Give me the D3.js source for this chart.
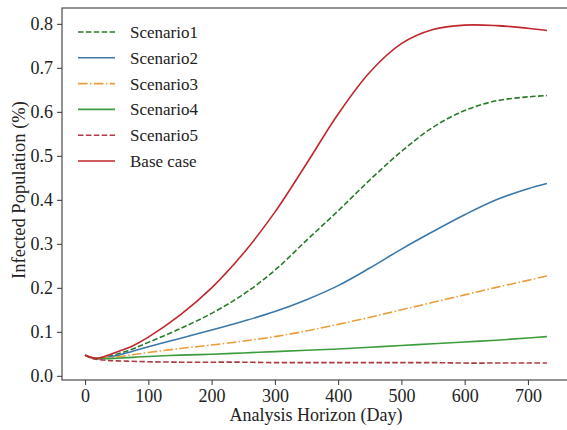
<!DOCTYPE html>
<html>
<head>
<meta charset="utf-8">
<script src="https://cdn.jsdelivr.net/npm/d3@7"></script>
</head>
<body style="margin:0; background:#fff">
<svg id="chart" width="567" height="430" style="display:block"></svg>
<script>
// Days at which each scenario is sampled
const days = [0, 10, 20, 35, 50, 75, 100, 150, 200, 250, 300, 350, 400, 450, 500, 550, 600, 650, 700, 730];

// Infected population (%) per scenario
const scenario1 = [0.047, 0.041, 0.039, 0.043, 0.049, 0.061, 0.076, 0.107, 0.142, 0.185, 0.240, 0.308, 0.375, 0.445, 0.510, 0.565, 0.603, 0.625, 0.634, 0.637];
const scenario2 = [0.047, 0.041, 0.039, 0.042, 0.046, 0.056, 0.066, 0.085, 0.104, 0.124, 0.146, 0.173, 0.205, 0.245, 0.288, 0.328, 0.366, 0.400, 0.425, 0.437];
const scenario3 = [0.047, 0.041, 0.039, 0.041, 0.043, 0.048, 0.053, 0.062, 0.070, 0.079, 0.089, 0.102, 0.117, 0.133, 0.150, 0.167, 0.184, 0.201, 0.217, 0.227];
const scenario4 = [0.047, 0.041, 0.039, 0.039, 0.040, 0.042, 0.044, 0.047, 0.049, 0.052, 0.055, 0.058, 0.061, 0.065, 0.069, 0.073, 0.077, 0.081, 0.086, 0.089];
const scenario5 = [0.047, 0.040, 0.037, 0.035, 0.034, 0.033, 0.032, 0.031, 0.031, 0.031, 0.030, 0.030, 0.030, 0.030, 0.030, 0.030, 0.029, 0.029, 0.029, 0.029];
const baseCase  = [0.047, 0.042, 0.040, 0.046, 0.054, 0.068, 0.088, 0.138, 0.200, 0.278, 0.372, 0.482, 0.595, 0.690, 0.755, 0.787, 0.797, 0.796, 0.790, 0.785];

const seriesNames = ["Scenario1", "Scenario2", "Scenario3", "Scenario4", "Scenario5", "Base case"];
const seriesValues = [scenario1, scenario2, scenario3, scenario4, scenario5, baseCase];

const xTicks = [0, 100, 200, 300, 400, 500, 600, 700];
const yTicks = [0.0, 0.1, 0.2, 0.3, 0.4, 0.5, 0.6, 0.7, 0.8];

const xTitle = "Analysis Horizon (Day)";
const yTitle = "Infected Population (%)";

// Line styles for each series
const styles = [
  { color: "#2b7a2b", dash: "5.5,2.4" },
  { color: "#3a78aa", dash: null },
  { color: "#eb9d3c", dash: "9.6,2.4,1.5,2.4" },
  { color: "#3c9c3c", dash: null },
  { color: "#ad3a40", dash: "5.5,2.4" },
  { color: "#c0272d", dash: null }
];

const FONT = '"Liberation Serif"';

const svg = d3.select("#chart");
const plot = { left: 62, top: 8, right: 570, bottom: 380 };

const x = d3.scaleLinear().domain([-36.5, 766.5]).range([plot.left, plot.right]);
const y = d3.scaleLinear().domain([-0.0095, 0.836]).range([plot.bottom, plot.top]);

// Axes
const xAxis = d3.axisBottom(x).tickValues(xTicks).tickSize(5).tickPadding(4).tickFormat(d3.format("d"));
const yAxis = d3.axisLeft(y).tickValues(yTicks).tickSize(5).tickPadding(4).tickFormat(d3.format(".1f"));

const gx = svg.append("g").attr("transform", `translate(0,${plot.bottom})`).call(xAxis);
const gy = svg.append("g").attr("transform", `translate(${plot.left},0)`).call(yAxis);
[gx, gy].forEach(g => {
  g.select(".domain").remove();
  g.selectAll(".tick line").attr("stroke", "#333").attr("stroke-width", 1);
  g.selectAll(".tick text")
    .style("font-family", FONT)
    .style("font-size", "18px")
    .style("fill", "#222");
});

// Frame
svg.append("rect")
  .attr("x", plot.left).attr("y", plot.top)
  .attr("width", plot.right - plot.left).attr("height", plot.bottom - plot.top)
  .attr("fill", "none").attr("stroke", "#3a3a3a").attr("stroke-width", 1.1);

// Lines
const line = d3.line()
  .x((d, i) => x(days[i]))
  .y(d => y(d))
  .curve(d3.curveCatmullRom.alpha(0.5));

seriesValues.forEach((vals, k) => {
  svg.append("path")
    .datum(vals)
    .attr("d", line)
    .attr("fill", "none")
    .attr("stroke", styles[k].color)
    .attr("stroke-width", 1.6)
    .attr("stroke-dasharray", styles[k].dash);
});

// Axis titles
svg.append("text")
  .attr("x", x(365)).attr("y", 421)
  .attr("text-anchor", "middle")
  .style("font-family", FONT)
  .style("font-size", "18px")
  .style("fill", "#222")
  .text(xTitle);

svg.append("text")
  .attr("transform", "translate(25,190) rotate(-90)")
  .attr("text-anchor", "middle")
  .style("font-family", FONT)
  .style("font-size", "18.5px")
  .style("fill", "#222")
  .text(yTitle);

// Legend
const legend = svg.append("g");
seriesNames.forEach((name, k) => {
  const ly = 32 + k * 25.8;
  legend.append("line")
    .attr("x1", 78).attr("x2", 115).attr("y1", ly).attr("y2", ly)
    .attr("stroke", styles[k].color)
    .attr("stroke-width", 1.6)
    .attr("stroke-dasharray", styles[k].dash);
  legend.append("text")
    .attr("x", 130).attr("y", ly + 6)
    .style("font-family", FONT)
    .style("font-size", "17px")
    .style("fill", "#222")
    .text(name);
});
</script>
</body>
</html>
